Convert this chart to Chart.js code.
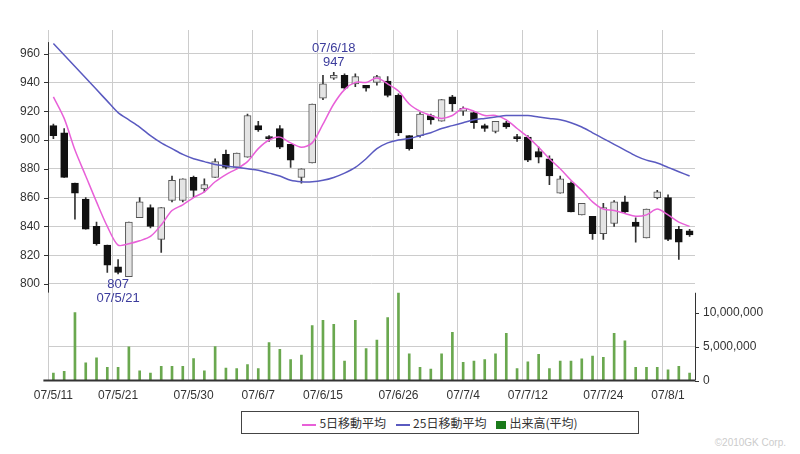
<!DOCTYPE html>
<html><head><meta charset="utf-8">
<script src="https://cdn.jsdelivr.net/npm/chart.js@4"></script>
<style>
body{margin:0;background:#fff;font-family:"Liberation Sans",Arial,sans-serif}
#wrap{position:absolute;left:0;top:0;width:800px;height:415px}
#legend{position:absolute;left:241px;top:411px;width:396px;height:21px;border:1px solid #444;font-size:12px;color:#333;display:flex;align-items:center;justify-content:center;gap:10px;font-family:"Noto Sans CJK JP",sans-serif;background:#fff}
#legend span.l{display:inline-block;width:14px;height:2px;vertical-align:middle;margin-right:3px}
#legend span.b{display:inline-block;width:10px;height:8px;background:#1a7a1a;vertical-align:middle;margin-right:3px}
#copy{position:absolute;right:14px;top:437px;font-size:10px;color:#ccc}
</style></head><body>
<div id="wrap"><canvas id="c"></canvas></div>
<div id="legend"><span><span class="l" style="background:#e860d8"></span>5日移動平均</span><span><span class="l" style="background:#5a5ac0"></span>25日移動平均</span><span><span class="b"></span>出来高(平均)</span></div>
<div id="copy">©2010GK Corp.</div>
<script>
const dates = ['07/5/11','07/5/14','07/5/15','07/5/16','07/5/17','07/5/18','07/5/21','07/5/22','07/5/23','07/5/24','07/5/25','07/5/28','07/5/29','07/5/30','07/5/31','07/6/1','07/6/4','07/6/5','07/6/6','07/6/7','07/6/8','07/6/11','07/6/12','07/6/13','07/6/14','07/6/15','07/6/18','07/6/19','07/6/20','07/6/21','07/6/22','07/6/25','07/6/26','07/6/27','07/6/28','07/6/29','07/7/2','07/7/3','07/7/4','07/7/5','07/7/6','07/7/9','07/7/10','07/7/11','07/7/12','07/7/13','07/7/17','07/7/18','07/7/19','07/7/20','07/7/23','07/7/24','07/7/25','07/7/26','07/7/27','07/7/30','07/7/31','07/8/1','07/8/2','07/8/3'];
const tickDates = ['07/5/11','07/5/21','07/5/30','07/6/7','07/6/15','07/6/26','07/7/4','07/7/12','07/7/24','07/8/1'];
const open  = [910,905,870,859,840,827,812,805,846,853,831,858,858,874,866,874,890,881,888,910,902,908,897,874,884,929,943,945,939,938,940,941,931,903,903,917,913,930,920,919,910,906,912,902,902,892,887,863,870,848,847,835,842,857,843,832,860,860,838,837];
const high  = [911,908,870,860,843,827,817,843,860,855,853,875,873,875,873,887,893,891,918,913,903,910,897,880,925,945,947,946,946,938,945,944,932,903,919,918,928,931,923,920,911,913,913,904,903,895,889,875,871,856,847,856,858,861,846,852,865,862,840,838];
const low   = [901,874,845,838,827,808,807,805,846,839,822,857,857,860,864,874,880,880,888,906,899,894,881,870,884,928,942,935,937,934,938,930,903,893,902,911,913,920,917,908,906,905,908,899,885,884,869,863,850,848,831,831,840,849,829,832,859,830,817,833];
const close = [903,874,863,838,828,813,808,843,857,840,853,872,873,865,869,885,881,891,917,907,901,895,886,880,925,939,945,936,944,936,944,931,905,894,918,914,928,925,922,912,908,913,909,901,886,888,875,873,850,856,835,853,857,850,840,852,864,831,829,834];
const ma5  = [930,915,893,875,857,840,827,828,830,833,841,851,855,860,864,871,876,880,885,894,900,902,898,895,898,911,925,935,940,940,943,939,934,925,920,917,915,917,922,920,917,917,914,908,902,895,887,880,872,865,857,852,851,849,847,848,852,848,843,840];
const ma25 = [967,959,951,943,935,927,919,914,909,903,898,894,890,887,885,883,882,881,880,879,877,875,872,871,871,872,874,877,881,887,894,898,900,901,903,905,908,910,912,914,915,916,917,917,917,916,915,914,912,909,905,901,897,893,889,886,884,881,878,875];
const volume = [1.1,1.35,10.0,2.6,3.35,1.95,1.95,4.95,1.45,1.1,2.1,2.1,2.1,3.25,1.45,5.0,1.85,1.75,2.35,1.75,5.6,4.6,3.1,3.75,8.1,8.85,8.25,2.85,8.85,4.7,5.95,9.25,12.85,3.95,1.95,1.7,3.95,7.1,2.7,2.85,3.1,3.95,6.95,1.75,2.75,3.85,1.75,2.85,2.85,3.2,3.6,3.4,6.95,5.85,1.95,1.95,1.95,1.6,2.1,1.1];
const priceTicks = [800,820,840,860,880,900,920,940,960];
const volTicks = [0,5000000,10000000];
const notes = [{i:26, v:947, lines:['07/6/18','947'], above:true},{i:6, v:807, lines:['807','07/5/21'], above:false}];

const up = open.map((o,i)=>close[i]>=o);
const frame = {
  id:'frame',
  afterDatasetsDraw(ch){
    const {ctx, chartArea:a, scales:{x, yP, yV}} = ch;
    ctx.save();
    ctx.strokeStyle='#333'; ctx.lineWidth=1;
    const yTop = yP.getPixelForValue(968), yMid = yP.getPixelForValue(794);
    ctx.beginPath();
    ctx.moveTo(a.left+0.5, yTop); ctx.lineTo(a.left+0.5, yMid);
    priceTicks.forEach(t=>{const y=Math.round(yP.getPixelForValue(t))+0.5; ctx.moveTo(a.left-4,y); ctx.lineTo(a.left,y);});
    const vt = yV.getPixelForValue(12900000);
    ctx.moveTo(a.right+0.5, vt); ctx.lineTo(a.right+0.5, a.bottom);
    volTicks.forEach(t=>{const y=Math.round(yV.getPixelForValue(t))+0.5; ctx.moveTo(a.right,y); ctx.lineTo(a.right+4,y);});
    ctx.stroke();
    ctx.lineWidth=2; ctx.beginPath();
    ctx.moveTo(x.getPixelForValue(0)-10, a.bottom); ctx.lineTo(a.right, a.bottom); ctx.stroke();
    ctx.fillStyle='#3c3c9c'; ctx.font='13px "Liberation Sans", Arial'; ctx.textAlign='center';
    notes.forEach(n=>{
      const px = x.getPixelForValue(n.i), py = yP.getPixelForValue(n.v);
      n.lines.forEach((t,k)=>{
        const yy = n.above ? py-6-(n.lines.length-1-k)*14 : py+14+k*14;
        ctx.fillText(t, px, yy);
      });
    });
    ctx.restore();
  }
};

new Chart(document.getElementById('c'), {
  data:{
    labels: dates,
    datasets:[
      {type:'line', label:'25日移動平均', data:ma25, yAxisID:'yP', borderColor:'#5a5ac0', borderWidth:1.5, pointRadius:0, tension:0.3, order:0},
      {type:'line', label:'5日移動平均', data:ma5, yAxisID:'yP', borderColor:'#e860d8', borderWidth:1.5, pointRadius:0, tension:0.3, order:0},
      {type:'bar', label:'body', data:open.map((o,i)=>[o,close[i]]), yAxisID:'yP', grouped:false, barThickness:7, minBarLength:2,
        backgroundColor:up.map(u=>u?'#e4e4e4':'#111'), borderColor:up.map(u=>u?'#555':'#111'), borderWidth:1, borderSkipped:false, order:1},
      {type:'bar', label:'wick', data:low.map((l,i)=>[l,high[i]]), yAxisID:'yP', grouped:false, barThickness:1,
        backgroundColor:'#333', order:2},
      {type:'bar', label:'出来高', data:volume.map(v=>v*1e6), yAxisID:'yV', grouped:false, barThickness:2, backgroundColor:'#6aa84f', order:3}
    ]
  },
  options:{
    responsive:true, maintainAspectRatio:false, animation:false,
    layout:{padding:{top:30,bottom:4,left:0,right:0}},
    plugins:{legend:{display:false}, tooltip:{enabled:false}},
    scales:{
      x:{offset:true, border:{display:false},
        grid:{color:(c)=>tickDates.includes(dates[c.index])?'#ccc':'transparent', borderDash:[2,3], drawTicks:false},
        ticks:{autoSkip:false, maxRotation:0, padding:8, color:'#333', font:{size:12},
          callback:(v,i)=>tickDates.includes(dates[i])?dates[i]:''}},
      yP:{position:'left', min:732.9, max:976.4, border:{display:false},
        afterFit(s){s.width=48;},
        afterBuildTicks(s){s.ticks=priceTicks.map(v=>({value:v}));},
        grid:{color:'#ccc', borderDash:[2,3], drawTicks:false},
        ticks:{color:'#333', font:{size:12}, padding:8}},
      yV:{position:'right', min:0, max:51500000, border:{display:false},
        afterFit(s){s.width=105;},
        afterBuildTicks(s){s.ticks=volTicks.map(v=>({value:v}));},
        grid:{color:(c)=>c.tick&&c.tick.value===5000000?'#ccc':'transparent', borderDash:[2,3], drawTicks:false},
        ticks:{color:'#333', font:{size:12}, padding:8, callback:v=>v.toLocaleString('en-US')}}
    }
  },
  plugins:[frame]
});
</script>
</body></html>
